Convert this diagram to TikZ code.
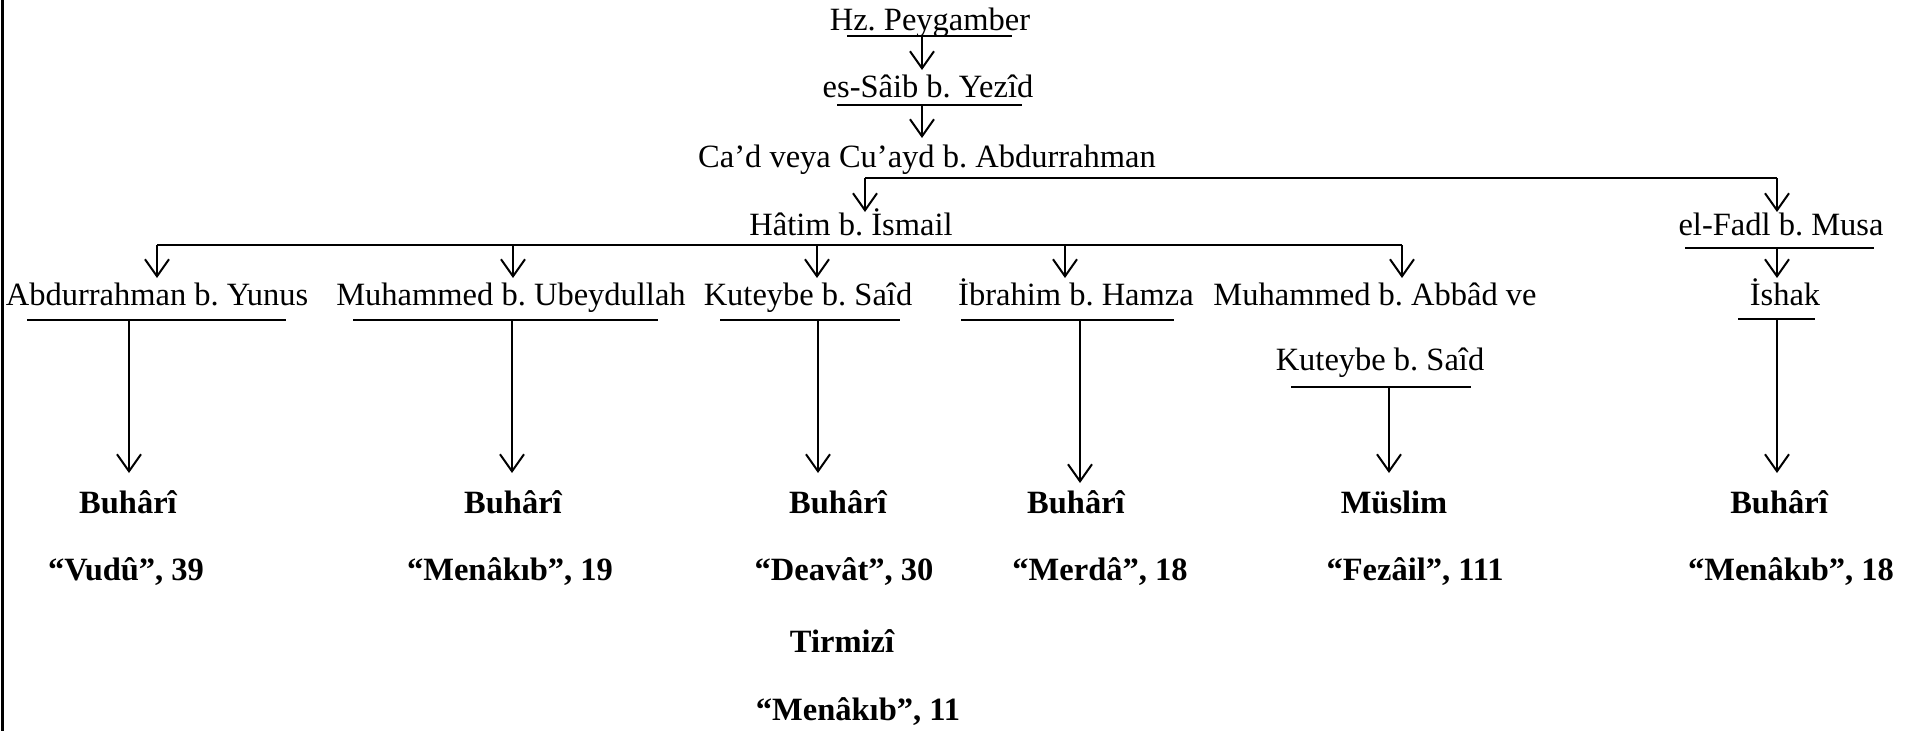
\documentclass[tikz,border=0pt]{standalone}
\usepackage{fontspec}
\setmainfont{Liberation Serif}
\usetikzlibrary{arrows.meta}
\frenchspacing
\begin{document}
\begin{tikzpicture}[x=1pt,y=-1pt,
  lbl/.style={anchor=base,inner sep=0pt,font=\fontsize{32.5}{39}\selectfont\frenchspacing},
  blbl/.style={anchor=base,inner sep=0pt,font=\fontsize{32.5}{39}\selectfont\bfseries\frenchspacing},
  ln/.style={line width=2pt},
  arr/.style={line width=2pt,-{Straight Barb[length=17pt,width=24pt]}}]
\useasboundingbox (0,0) rectangle (1917,731);
\draw[line width=3pt] (2.5,0) -- (2.5,731);
% top chain
\node[lbl] (hz) at (930,30) {Hz. Peygamber};
\coordinate (hzL) at (847,36); \coordinate (hzR) at (1012,36); \coordinate (hzA) at (922,36);
\draw[ln] (hzL) -- (hzR);
\node[lbl] (saib) at (928,97) {es-Sâib b. Yezîd};
\coordinate (saibT) at (922,70);
\draw[arr] (hzA) -- (saibT);
\coordinate (saibL) at (837,105); \coordinate (saibR) at (1022,105); \coordinate (saibA) at (922,105);
\draw[ln] (saibL) -- (saibR);
\node[lbl] (cad) at (927,167) {Ca’d veya Cu’ayd b. Abdurrahman};
\coordinate (cadT) at (922,138);
\draw[arr] (saibA) -- (cadT);
\coordinate (cadL) at (865,178); \coordinate (cadR) at (1777,178);
\draw[ln] (cadL) -- (cadR);
\node[lbl] (hatim) at (851,235) {Hâtim b. İsmail};
\node[lbl] (fadl) at (1781,235) {el-Fadl b. Musa};
\coordinate (hatimT) at (865,212); \coordinate (fadlT) at (1777,212);
\draw[arr] (cadL) -- (hatimT);
\draw[arr] (cadR) -- (fadlT);
% Hatim branch line
\coordinate (hL) at (157,245); \coordinate (hR) at (1402,245);
\coordinate (h2) at (513,245); \coordinate (h3) at (817,245); \coordinate (h4) at (1065,245);
\draw[ln] (hL) -- (hR);
\coordinate (fL) at (1685,248); \coordinate (fR) at (1874,248); \coordinate (fA) at (1777,248);
\draw[ln] (fL) -- (fR);
% second row names
\node[lbl] (abd) at (157,305) {Abdurrahman b. Yunus};
\node[lbl] (mub) at (511,305) {Muhammed b. Ubeydullah};
\node[lbl] (kut) at (808,305) {Kuteybe b. Saîd};
\node[lbl] (ibr) at (1076,305) {İbrahim b. Hamza};
\node[lbl] (mab) at (1375,305) {Muhammed b. Abbâd ve};
\node[lbl] (ish) at (1785,305) {İshak};
\node[lbl] (kut2) at (1380,370) {Kuteybe b. Saîd};
\coordinate (abdT) at (157,278); \coordinate (mubT) at (513,278); \coordinate (kutT) at (817,278);
\coordinate (ibrT) at (1065,278); \coordinate (mabT) at (1402,278); \coordinate (ishT) at (1777,278);
\draw[arr] (hL) -- (abdT);
\draw[arr] (h2) -- (mubT);
\draw[arr] (h3) -- (kutT);
\draw[arr] (h4) -- (ibrT);
\draw[arr] (hR) -- (mabT);
\draw[arr] (fA) -- (ishT);
% underlines
\coordinate (abdL) at (27,320); \coordinate (abdR) at (286,320); \coordinate (abdA) at (129,320);
\coordinate (mubL) at (353,320); \coordinate (mubR) at (658,320); \coordinate (mubA) at (512,320);
\coordinate (kutL) at (720,320); \coordinate (kutR) at (900,320); \coordinate (kutA) at (818,320);
\coordinate (ibrL) at (961,320); \coordinate (ibrR) at (1174,320); \coordinate (ibrA) at (1080,320);
\coordinate (ishL) at (1738,319); \coordinate (ishR) at (1815,319); \coordinate (ishA) at (1777,319);
\coordinate (k2L) at (1291,387); \coordinate (k2R) at (1471,387); \coordinate (k2A) at (1389,387);
\foreach \a in {abd,mub,kut,ibr,ish,k2} \draw[ln] (\a L) -- (\a R);
% bottom labels
\node[blbl] (b1) at (128,513) {Buhârî};
\node[blbl] (b1s) at (126,580) {“Vudû”, 39};
\node[blbl] (b2) at (513,513) {Buhârî};
\node[blbl] (b2s) at (510,580) {“Menâkıb”, 19};
\node[blbl] (b3) at (838,513) {Buhârî};
\node[blbl] (b3s) at (844,580) {“Deavât”, 30};
\node[blbl] (b3t) at (842,652) {Tirmizî};
\node[blbl] (b3u) at (858,720) {“Menâkıb”, 11};
\node[blbl] (b4) at (1076,513) {Buhârî};
\node[blbl] (b4s) at (1100,580) {“Merdâ”, 18};
\node[blbl] (b5) at (1394,513) {Müslim};
\node[blbl] (b5s) at (1415,580) {“Fezâil”, 111};
\node[blbl] (b6) at (1779,513) {Buhârî};
\node[blbl] (b6s) at (1791,580) {“Menâkıb”, 18};
\coordinate (b1T) at (129,473); \coordinate (b2T) at (512,473); \coordinate (b3T) at (818,473);
\coordinate (b4T) at (1080,483); \coordinate (b5T) at (1389,473); \coordinate (b6T) at (1777,473);
\draw[arr] (abdA) -- (b1T);
\draw[arr] (mubA) -- (b2T);
\draw[arr] (kutA) -- (b3T);
\draw[arr] (ibrA) -- (b4T);
\draw[arr] (k2A) -- (b5T);
\draw[arr] (ishA) -- (b6T);
\end{tikzpicture}
\end{document}
